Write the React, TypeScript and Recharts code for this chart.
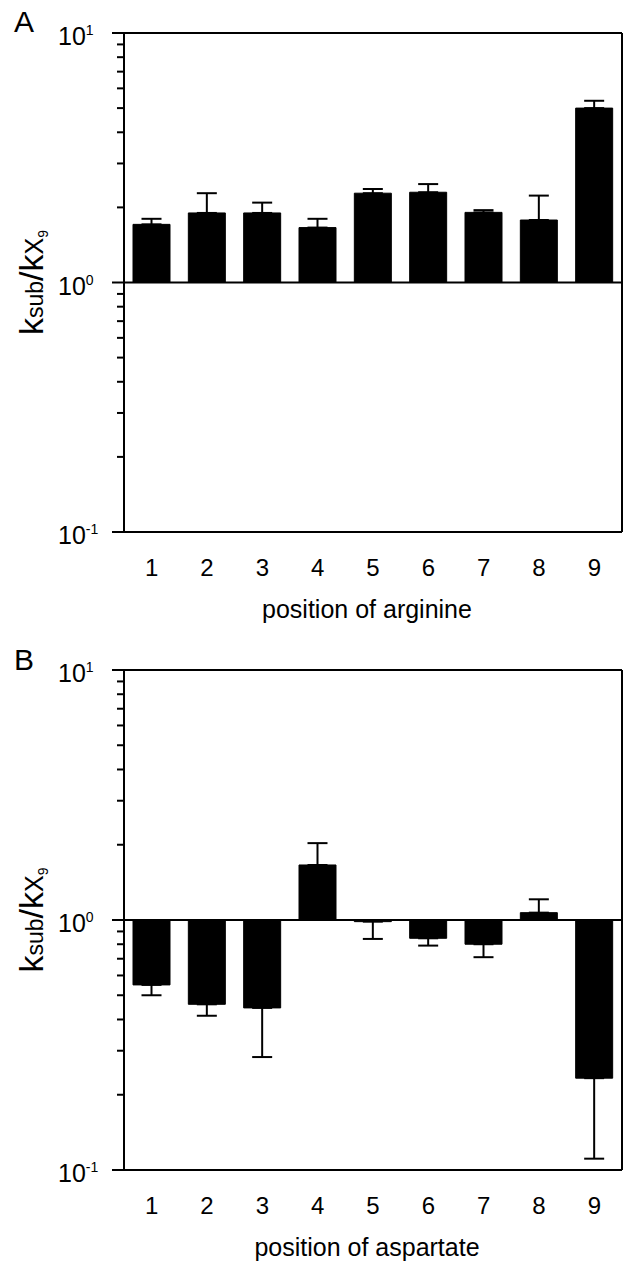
import { BarChart, Bar, XAxis, YAxis, ErrorBar, ReferenceLine, Label } from "recharts";

const positions = ["1", "2", "3", "4", "5", "6", "7", "8", "9"];

const arginineMean = [1.71, 1.9, 1.9, 1.66, 2.28, 2.3, 1.91, 1.78, 5.0];
const arginineErrEnd = [1.8, 2.28, 2.09, 1.8, 2.37, 2.48, 1.95, 2.23, 5.35];

const aspartateMean = [0.55, 0.46, 0.445, 1.66, 0.985, 0.845, 0.8, 1.07, 0.233];
const aspartateErrEnd = [0.5, 0.414, 0.283, 2.03, 0.84, 0.79, 0.71, 1.21, 0.111];

const majorTicks = [0.1, 1, 10];
const majorExponents = ["-1", "0", "1"];
const minorSteps = [2, 3, 4, 5, 6, 7, 8, 9];

const yTicks = [
  ...majorTicks,
  ...majorTicks.slice(0, 2).flatMap((d) => minorSteps.map((m) => d * m)),
].sort((a, b) => a - b);

const font = "'Liberation Sans', Arial, sans-serif";

// bars hang from 1.0 up or down, error bar only on the far side
function buildRows(mean: number[], errEnd: number[]) {
  return positions.map((p, i) => ({
    pos: p,
    range: [1, mean[i]],
    err: errEnd[i] >= mean[i] ? [0, errEnd[i] - mean[i]] : [mean[i] - errEnd[i], 0],
  }));
}

const YTick = (props: any) => {
  const { x, y, payload } = props;
  const idx = majorTicks.findIndex((m) => Math.abs(m - payload.value) < 1e-9);
  const major = idx >= 0;
  return (
    <g>
      <line x1={x - (major ? 12 : 7)} x2={x} y1={y} y2={y} stroke="#000" strokeWidth={2} />
      {major && (
        <text x={x - 66} y={y + 12} fontSize={25} fill="#000" fontFamily={font}>
          10
          <tspan fontSize={14} dy={-10}>
            {majorExponents[idx]}
          </tspan>
        </text>
      )}
    </g>
  );
};

const XTick = (props: any) => {
  const { x, y, payload } = props;
  return (
    <text x={x} y={y + 44} textAnchor="middle" fontSize={24} fill="#000" fontFamily={font}>
      {payload.value}
    </text>
  );
};

const YTitle = (props: any) => {
  const vb = props.viewBox;
  const cy = vb.y + vb.height / 2;
  return (
    <text transform={`translate(43, ${cy}) rotate(-90)`} textAnchor="middle" fill="#000" fontFamily={font}>
      <tspan fontSize={34}>k</tspan>
      <tspan fontSize={23}>sub</tspan>
      <tspan fontSize={34}>/k</tspan>
      <tspan fontSize={25}>X</tspan>
      <tspan fontSize={14} dy={5}>
        9
      </tspan>
    </text>
  );
};

const xTitle = (text: string) => (props: any) => {
  const vb = props.viewBox;
  return (
    <text x={vb.x + vb.width / 2 - 6} y={vb.y + 86} textAnchor="middle" fontSize={25} fill="#000" fontFamily={font}>
      {text}
    </text>
  );
};

const Panel = ({ rows, title, top, height, marginTop, axisHeight }: any) => (
  <div style={{ position: "absolute", left: 0, top }}>
    <BarChart
      width={626}
      height={height}
      data={rows}
      margin={{ top: marginTop, right: 3, bottom: 0, left: 0 }}
    >
      <XAxis
        dataKey="pos"
        height={axisHeight}
        tickLine={false}
        tickSize={0}
        tickMargin={0}
        tick={XTick}
        axisLine={{ stroke: "#000", strokeWidth: 2 }}
      >
        <Label content={xTitle(title)} />
      </XAxis>
      <YAxis
        scale="log"
        domain={[0.1, 10]}
        allowDataOverflow
        ticks={yTicks}
        interval={0}
        width={124}
        tickLine={false}
        tickSize={0}
        tickMargin={0}
        tick={YTick}
        axisLine={{ stroke: "#000", strokeWidth: 2 }}
      >
        <Label content={YTitle} />
      </YAxis>
      <YAxis
        yAxisId="r"
        orientation="right"
        width={1}
        tick={false}
        tickLine={false}
        axisLine={{ stroke: "#000", strokeWidth: 2 }}
      />
      <ReferenceLine y={10} stroke="#000" strokeWidth={2} />
      <Bar dataKey="range" fill="#000" stroke="#000" barSize={37} isAnimationActive={false}>
        <ErrorBar dataKey="err" direction="y" width={10} stroke="#000" strokeWidth={2} />
      </Bar>
      <ReferenceLine y={1} stroke="#000" strokeWidth={2} />
    </BarChart>
  </div>
);

const PanelLetter = ({ letter, top }: any) => (
  <div
    style={{
      position: "absolute",
      left: 14,
      top,
      fontSize: 30,
      lineHeight: "30px",
      fontFamily: font,
      color: "#000",
    }}
  >
    {letter}
  </div>
);

export default function App() {
  return (
    <div style={{ position: "absolute", left: 0, top: 0, width: 626, height: 1263, background: "#fff", overflow: "hidden" }}>
      <Panel
        rows={buildRows(arginineMean, arginineErrEnd)}
        title="position of arginine"
        top={0}
        height={632}
        marginTop={33}
        axisHeight={100}
      />
      <Panel
        rows={buildRows(aspartateMean, aspartateErrEnd)}
        title="position of aspartate"
        top={640}
        height={623}
        marginTop={30}
        axisHeight={93}
      />
      <PanelLetter letter="A" top={7} />
      <PanelLetter letter="B" top={645} />
    </div>
  );
}
